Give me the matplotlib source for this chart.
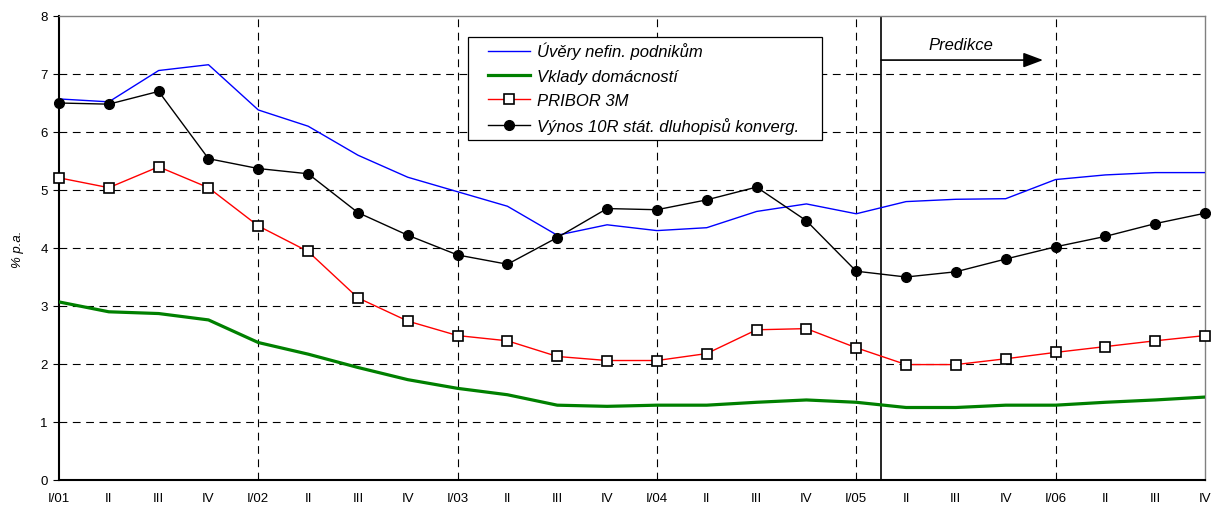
import matplotlib
matplotlib.use("Agg")
import matplotlib.pyplot as plt
from matplotlib.patches import Rectangle
import numpy as np

plt.rcParams['font.family'] = ['Liberation Sans', 'DejaVu Sans']

labels = ["I/01", "II", "III", "IV", "I/02", "II", "III", "IV", "I/03", "II", "III", "IV",
          "I/04", "II", "III", "IV", "I/05", "II", "III", "IV", "I/06", "II", "III", "IV"]

uvery = [6.57, 6.52, 7.06, 7.16, 6.38, 6.10, 5.60, 5.22, 4.97, 4.72, 4.22, 4.40,
         4.30, 4.35, 4.63, 4.76, 4.59, 4.80, 4.84, 4.85, 5.18, 5.26, 5.30, 5.30]
vklady = [3.07, 2.90, 2.87, 2.76, 2.37, 2.17, 1.94, 1.73, 1.58, 1.47, 1.29, 1.27,
          1.29, 1.29, 1.34, 1.38, 1.34, 1.25, 1.25, 1.29, 1.29, 1.34, 1.38, 1.43]
pribor = [5.21, 5.04, 5.40, 5.04, 4.38, 3.94, 3.14, 2.74, 2.49, 2.40, 2.13, 2.06,
          2.06, 2.18, 2.59, 2.61, 2.28, 1.99, 1.99, 2.09, 2.20, 2.30, 2.40, 2.49]
vynos = [6.50, 6.48, 6.70, 5.54, 5.37, 5.28, 4.61, 4.22, 3.88, 3.72, 4.18, 4.68,
         4.66, 4.83, 5.05, 4.47, 3.60, 3.50, 3.59, 3.81, 4.02, 4.20, 4.42, 4.60]

legend_names = ["Úvěry nefin. podnikům", "Vklady domácností", "PRIBOR 3M",
                "Výnos 10R stát. dluhopisů konverg."]

x = np.arange(len(labels))

fig = plt.figure(figsize=(12.11, 5.06), dpi=100)
ax = fig.add_axes([59/1211, 1 - 481/506, 1146/1211, 464/506])

dash = (0, (7, 5))
for yv in range(1, 8):
    ax.axhline(yv, color='black', lw=0.8, linestyle=dash, zorder=1)
for xv in [4, 8, 12, 16, 20]:
    ax.axvline(xv, color='black', lw=0.8, linestyle=dash, zorder=1)
ax.axvline(16.5, color='black', lw=1.2, zorder=1)

ax.plot(x, uvery, color='#0000ff', lw=1.0, label=legend_names[0], zorder=3)
ax.plot(x, vklady, color='#008000', lw=2.3, label=legend_names[1], zorder=3)
ax.plot(x, pribor, color='#ff0000', lw=1.0, marker='s', ms=7, mfc='white',
        mec='black', mew=1.2, label=legend_names[2], zorder=4, clip_on=False)
ax.plot(x, vynos, color='black', lw=1.0, marker='o', ms=7, mfc='black',
        mec='black', label=legend_names[3], zorder=4, clip_on=False)

ax.set_xlim(0, 23)
ax.set_ylim(0, 8)
ax.set_xticks(x)
ax.set_xticklabels(labels, fontsize=9.5)
ax.set_xticks([0, 4, 8, 12, 16, 20], minor=True)
ax.tick_params(axis='x', which='major', length=0, pad=9)
ax.tick_params(axis='x', which='minor', length=5, width=0.8, direction='out')
ax.set_yticks(range(0, 9))
ax.tick_params(axis='y', labelsize=9.5, length=4, width=0.8, direction='out', pad=4)

for s in ['left', 'bottom']:
    ax.spines[s].set_color('black')
    ax.spines[s].set_linewidth(1.5)
for s in ['top', 'right']:
    ax.spines[s].set_color('#808080')
    ax.spines[s].set_linewidth(1.0)

ax.set_ylabel('% p.a.', fontsize=9.5, style='italic', labelpad=12)

ax.annotate('', xy=(19.75, 7.24), xytext=(16.5, 7.24),
            arrowprops=dict(arrowstyle='-|>,head_length=1.2,head_width=0.45',
                            color='black', lw=1.2, shrinkA=0, shrinkB=0))
ax.text(18.1, 7.5, 'Predikce', fontsize=12, style='italic', ha='center', va='center')

# legend frame drawn separately
ax.add_patch(Rectangle((0.3569, 0.7328), 0.3089, 0.2219, transform=ax.transAxes,
                       facecolor='white', edgecolor='black', lw=0.9, zorder=5))
leg = ax.legend(loc='upper left', bbox_to_anchor=(0.3743, 0.944),
                prop={'style': 'italic', 'size': 12}, frameon=False,
                handlelength=2.5, labelspacing=0.55,
                borderpad=0, handletextpad=0.42, borderaxespad=0)
leg.set_zorder(6)

fig.savefig('out.png', dpi=100)
